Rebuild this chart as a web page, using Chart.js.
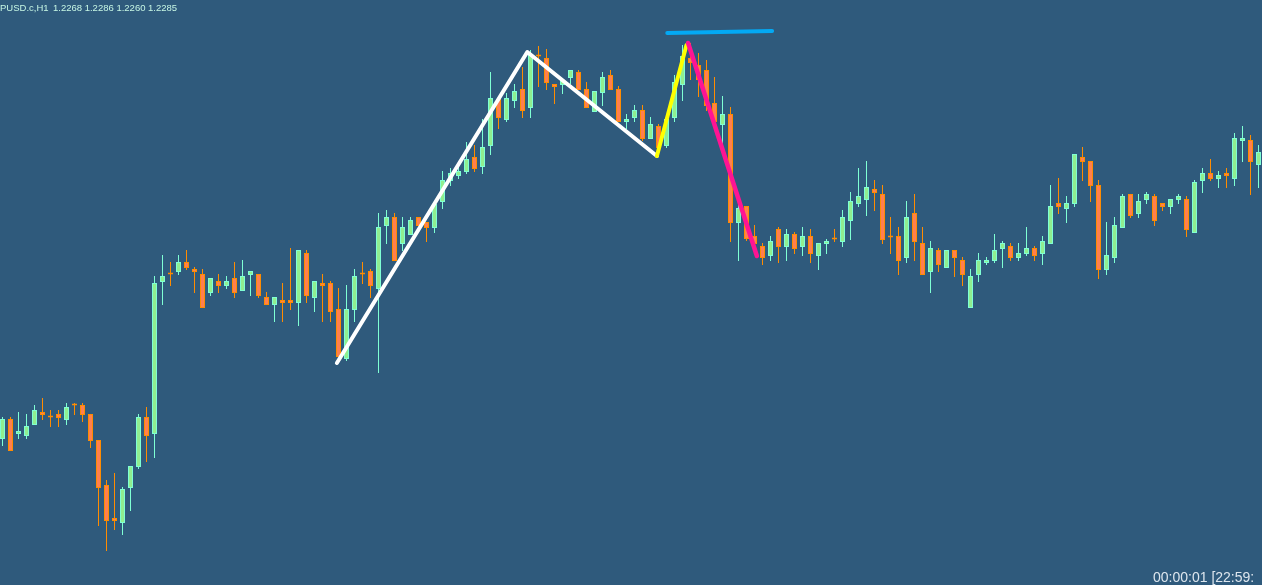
<!DOCTYPE html>
<html><head><meta charset="utf-8">
<script src="https://cdn.jsdelivr.net/npm/chart.js@4.4.0/dist/chart.umd.min.js"></script>
<style>
html,body{margin:0;padding:0;background:#2f5a7c;overflow:hidden;}
#wrap{position:relative;width:1262px;height:585px;overflow:hidden;background:#2f5a7c;}
canvas{display:block;}
.t{position:absolute;white-space:pre;font-family:"Liberation Sans",Arial,sans-serif;line-height:1;}
</style></head><body>
<div id="wrap">
<canvas id="c" width="1262" height="585"></canvas>
<div class="t" style="left:0px;top:3px;font-size:9.5px;color:#c6f6e4;">PUSD.c,H1</div>
<div class="t" style="left:53px;top:3px;font-size:9.5px;color:#c6f6e4;">1.2268 1.2286 1.2260 1.2285</div>
<div class="t" style="left:1153px;top:570px;font-size:14px;color:#dde6ee;">00:00:01 [22:59:</div>
</div>
<script>
const opens = [1.1991,1.2011,1.1996,1.1994,1.2005,1.2018,1.2013,1.2016,1.2010,1.2025,
1.2025,1.2016,1.1990,1.1945,1.1912,1.1907,1.1942,1.1963,1.2013,1.1996,
1.2148,1.2156,1.2158,1.2168,1.2161,1.2156,1.2137,1.2149,1.2144,1.2152,
1.2139,1.2155,1.2156,1.2133,1.2125,1.2130,1.2130,1.2127,1.2177,1.2132,
1.2147,1.2147,1.2121,1.2071,1.2120,1.2156,1.2159,1.2141,1.2204,1.2213,
1.2186,1.2195,1.2213,1.2208,1.2202,1.2228,1.2249,1.2254,1.2258,1.2273,
1.2263,1.2284,1.2331,1.2310,1.2329,1.2341,1.2322,1.2374,1.2372,1.2346,
1.2345,1.2352,1.2358,1.2341,1.2318,1.2337,1.2355,1.2341,1.2308,1.2312,
1.2320,1.2291,1.2304,1.2284,1.2312,1.2345,1.2372,1.2365,1.2360,1.2327,
1.2305,1.2316,1.2207,1.2224,1.2194,1.2184,1.2174,1.2201,1.2183,1.2196,
1.2183,1.2194,1.2174,1.2186,1.2191,1.2188,1.2209,1.2226,1.2230,1.2241,
1.2236,1.2193,1.2194,1.2172,1.2217,1.2187,1.2158,1.2180,1.2162,1.2180,
1.2170,1.2122,1.2155,1.2167,1.2169,1.2181,1.2184,1.2172,1.2176,1.2182,
1.2176,1.2186,1.2227,1.2221,1.2226,1.2273,1.2269,1.2245,1.2160,1.2172,
1.2202,1.2236,1.2216,1.2230,1.2234,1.2227,1.2223,1.2230,1.2231,1.2197,
1.2249,1.2257,1.2251,1.2257,1.2251,1.2289,1.2290,1.2265];
const highs = [1.2013,1.2013,1.2018,1.2016,1.2025,1.2032,1.2020,1.2020,1.2027,1.2027,
1.2027,1.2016,1.1990,1.1950,1.1957,1.1943,1.1964,1.2016,1.2023,1.2154,
1.2175,1.2168,1.2175,1.2180,1.2163,1.2161,1.2152,1.2156,1.2154,1.2168,
1.2170,1.2159,1.2156,1.2138,1.2133,1.2147,1.2182,1.2180,1.2180,1.2149,
1.2156,1.2149,1.2142,1.2145,1.2161,1.2168,1.2161,1.2217,1.2220,1.2217,
1.2213,1.2213,1.2213,1.2208,1.2228,1.2259,1.2262,1.2264,1.2288,1.2285,
1.2311,1.2358,1.2333,1.2337,1.2346,1.2363,1.2380,1.2384,1.2381,1.2346,
1.2352,1.2360,1.2360,1.2348,1.2339,1.2358,1.2360,1.2344,1.2316,1.2325,
1.2325,1.2313,1.2306,1.2311,1.2355,1.2385,1.2387,1.2377,1.2370,1.2353,
1.2334,1.2323,1.2225,1.2224,1.2205,1.2187,1.2194,1.2203,1.2201,1.2198,
1.2203,1.2201,1.2187,1.2191,1.2201,1.2220,1.2238,1.2262,1.2269,1.2250,
1.2245,1.2213,1.2203,1.2229,1.2236,1.2203,1.2189,1.2182,1.2180,1.2180,
1.2173,1.2161,1.2177,1.2173,1.2196,1.2189,1.2187,1.2187,1.2203,1.2184,
1.2194,1.2245,1.2252,1.2234,1.2276,1.2283,1.2269,1.2250,1.2208,1.2213,
1.2236,1.2236,1.2236,1.2238,1.2236,1.2227,1.2231,1.2236,1.2234,1.2250,
1.2262,1.2271,1.2259,1.2262,1.2297,1.2304,1.2295,1.2285];
const lows = [1.1984,1.1979,1.1991,1.1991,1.2005,1.2010,1.2003,1.2003,1.2005,1.2015,
1.2008,1.1982,1.1904,1.1879,1.1900,1.1895,1.1919,1.1961,1.1968,1.1972,
1.2125,1.2144,1.2155,1.2160,1.2137,1.2122,1.2134,1.2137,1.2141,1.2132,
1.2139,1.2134,1.2132,1.2125,1.2108,1.2108,1.2120,1.2104,1.2127,1.2118,
1.2108,1.2108,1.2073,1.2069,1.2108,1.2146,1.2132,1.2057,1.2186,1.2169,
1.2179,1.2195,1.2204,1.2188,1.2197,1.2221,1.2244,1.2251,1.2256,1.2258,
1.2256,1.2275,1.2301,1.2308,1.2322,1.2312,1.2312,1.2343,1.2340,1.2326,
1.2336,1.2346,1.2340,1.2322,1.2318,1.2324,1.2340,1.2308,1.2301,1.2308,
1.2289,1.2291,1.2280,1.2282,1.2308,1.2329,1.2350,1.2333,1.2319,1.2302,
1.2280,1.2188,1.2169,1.2189,1.2184,1.2165,1.2169,1.2167,1.2169,1.2176,
1.2174,1.2167,1.2160,1.2176,1.2188,1.2183,1.2190,1.2223,1.2214,1.2219,
1.2186,1.2176,1.2155,1.2167,1.2169,1.2155,1.2137,1.2158,1.2162,1.2153,
1.2144,1.2122,1.2148,1.2165,1.2167,1.2162,1.2169,1.2169,1.2174,1.2169,
1.2165,1.2186,1.2216,1.2207,1.2223,1.2249,1.2228,1.2151,1.2155,1.2167,
1.2202,1.2212,1.2212,1.2226,1.2204,1.2219,1.2216,1.2226,1.2193,1.2197,
1.2237,1.2249,1.2242,1.2242,1.2244,1.2268,1.2235,1.2242];
const closes = [1.2011,1.1979,1.1999,1.2004,1.2020,1.2015,1.20125,1.2012,1.2023,1.20245,
1.2015,1.1989,1.1942,1.1909,1.1909,1.1941,1.1964,1.2013,1.1994,1.2147,
1.2154,1.21555,1.2168,1.2162,1.2158,1.2122,1.2152,1.2144,1.2149,1.2137,
1.2154,1.2159,1.2134,1.2125,1.2133,1.2127,1.2127,1.2180,1.2134,1.2149,
1.2144,1.2118,1.2073,1.2121,1.2154,1.21555,1.2144,1.2203,1.2213,1.2169,
1.2203,1.2210,1.2204,1.2202,1.2226,1.2250,1.2257,1.2259,1.2271,1.2261,
1.2283,1.2332,1.2312,1.2332,1.2339,1.2319,1.2376,1.23735,1.2347,1.2343,
1.2350,1.2360,1.2340,1.2322,1.2339,1.2353,1.2340,1.2308,1.2311,1.2320,
1.2291,1.2306,1.2282,1.2311,1.2348,1.2374,1.2367,1.2350,1.2324,1.2308,
1.2316,1.2207,1.2222,1.2191,1.2186,1.2172,1.2189,1.2183,1.2196,1.2181,
1.2194,1.2176,1.2187,1.2189,1.21905,1.2213,1.2229,1.2234,1.2243,1.2237,
1.2190,1.21925,1.2169,1.2213,1.2188,1.2155,1.2182,1.2165,1.2180,1.2172,
1.2155,1.2154,1.2170,1.2170,1.2180,1.2187,1.2172,1.2177,1.2182,1.2174,
1.2189,1.2224,1.2223,1.2227,1.2276,1.2268,1.2244,1.2160,1.2175,1.2205,
1.2234,1.2214,1.2229,1.2236,1.2209,1.2223,1.2231,1.2234,1.2200,1.2248,
1.2257,1.2251,1.2255,1.2254,1.2292,1.2292,1.2268,1.2278];

// zigzag / drawn objects (bar index, price)
const whiteX = [41.8, 65.6, 81.8];
const whiteY = [1.2067, 1.2378, 1.2274];
const yellowX = [81.8, 85.5];
const yellowY = [1.2274, 1.2385];
const pinkX = [85.7, 94.3];
const pinkY = [1.2387, 1.2174];
const blueX = [83.1, 96.2];
const blueY = [1.2397, 1.2399];

const idx = opens.map((_, i) => i);
const bull = idx.map(i => closes[i] >= opens[i]);
const wickCol = bull.map(b => b ? '#7fffd4' : '#ff8c00');
const bodyFill = bull.map(b => b ? '#90ee90' : '#ff7f50');
const bodyBorder = bull.map(b => b ? '#7fffd4' : '#ff8c00');
const pts = (xs, ys) => xs.map((x, k) => ({x, y: ys[k]}));

const lineDs = (xs, ys, color, w, order) => ({
  type: 'line', data: pts(xs, ys), borderColor: color, borderWidth: w,
  pointRadius: 0, borderCapStyle: 'round', borderJoinStyle: 'round',
  tension: 0, order, clip: false
});

new Chart(document.getElementById('c'), {
  type: 'bar',
  data: {
    datasets: [
      { data: idx.map(i => ({x: i, y: [lows[i], highs[i]]})),
        backgroundColor: wickCol, borderWidth: 0, grouped: false,
        maxBarThickness: 1, inflateAmount: 0, order: 6 },
      { data: idx.map(i => ({x: i, y: [Math.min(opens[i], closes[i]), Math.max(opens[i], closes[i])]})),
        backgroundColor: bodyFill, borderColor: bodyBorder, borderWidth: 1,
        borderSkipped: false, minBarLength: 2, grouped: false,
        maxBarThickness: 5, inflateAmount: 0, order: 5 },
      lineDs(whiteX, whiteY, '#ffffff', 4, 2),
      lineDs(yellowX, yellowY, '#ffff00', 4, 1),
      lineDs(pinkX, pinkY, '#ff1493', 4.5, 0),
      lineDs(blueX, blueY, '#03a9f4', 4, 1)
    ]
  },
  options: {
    responsive: false, animation: false, events: [],
    layout: {padding: 0},
    plugins: {legend: {display: false}, tooltip: {enabled: false}, title: {display: false}},
    scales: {
      x: {type: 'linear', min: -0.3125, max: 157.4375, display: false, offset: false},
      y: {type: 'linear', min: 1.1845, max: 1.2430, display: false}
    }
  }
});
</script>
</body></html>
